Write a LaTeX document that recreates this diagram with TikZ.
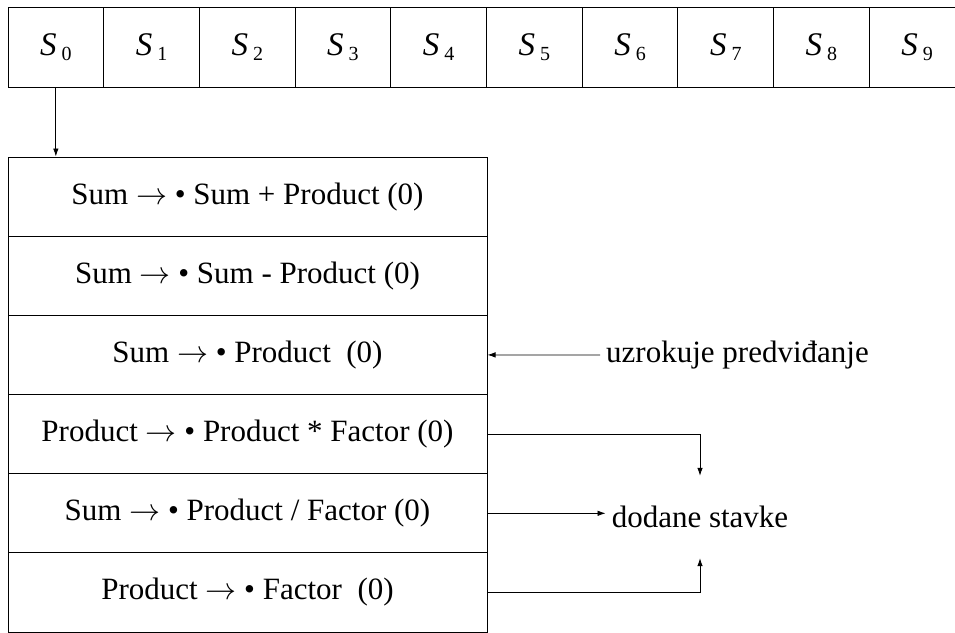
\RequirePackage{fix-cm}
\documentclass[tikz,border=0pt]{standalone}
\usepackage{fontspec}
\setmainfont{Liberation Serif}
\usetikzlibrary{arrows.meta}
\usetikzlibrary{calc}

\tikzset{
  cell/.style={draw, line width=1pt, minimum width=95.7pt, minimum height=80pt, inner sep=0pt, font=\fontsize{33}{36}\selectfont},
  item/.style={draw, line width=1pt, minimum width=479pt, minimum height=79.2pt, inner sep=0pt, font=\fontsize{31}{36}\selectfont},
  note/.style={font=\fontsize{31}{36}\selectfont, inner sep=6pt},
  link/.style={line width=0.8pt, -{Latex[length=8pt,width=5.5pt]}}
}
\newcommand{\sset}[1]{\textit{S}\kern5pt\raisebox{-5pt}{\fontsize{20}{22}\selectfont #1}}
\newcommand{\goesto}{$\rightarrow$}

\begin{document}
\begin{tikzpicture}[x=1pt, y=-1pt]
                \useasboundingbox (0,0) rectangle (955,632);
                \node[cell] (S0) at (55.85,47) {\sset{0}};
                \node[cell] (S1) at (151.55,47) {\sset{1}};
                \node[cell] (S2) at (247.25,47) {\sset{2}};
                \node[cell] (S3) at (342.95,47) {\sset{3}};
                \node[cell] (S4) at (438.65,47) {\sset{4}};
                \node[cell] (S5) at (534.35,47) {\sset{5}};
                \node[cell] (S6) at (630.05,47) {\sset{6}};
                \node[cell] (S7) at (725.75,47) {\sset{7}};
                \node[cell] (S8) at (821.45,47) {\sset{8}};
                \node[cell] (S9) at (917.15,47) {\sset{9}};
                \node[item] (I1) at (247.5,196.6) {Sum \goesto{} • Sum + Product (0)};
                \node[item] (I2) at (247.5,275.8) {Sum \goesto{} • Sum - Product (0)};
                \node[item] (I3) at (247.5,354.9) {Sum \goesto{} • Product~ (0)};
                \node[item] (I4) at (247.5,434.1) {Product \goesto{} • Product * Factor (0)};
                \node[item] (I5) at (247.5,513.3) {Sum \goesto{} • Product / Factor (0)};
                \node[item] (I6) at (247.5,592.4) {Product \goesto{} • Factor~ (0)};
                \node[note, anchor=west] (cause) at (600,355) {uzrokuje predviđanje};
                \node[note, minimum height=82pt] (added) at (700,517) {dodane stavke};
                \draw[link] (S0.south) -- (S0 |- I1.north);
                \draw[link] (cause.west) -- (I3.east);
                \draw[link] (I4.east) -| (added.north);
                \draw[link] (I5.east) -- (I5.east -| added.west);
                \draw[link] (I6.east) -| (added.south);
            \end{tikzpicture}
\end{document}
